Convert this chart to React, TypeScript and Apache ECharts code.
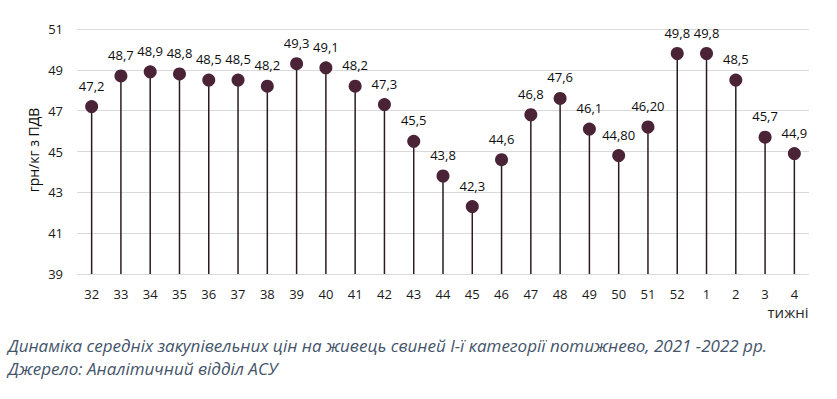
import React, { useEffect, useRef } from "react";
import * as echarts from "echarts";

const weeks = ["32","33","34","35","36","37","38","39","40","41","42","43","44","45","46","47","48","49","50","51","52","1","2","3","4"];
const prices = [47.2,48.7,48.9,48.8,48.5,48.5,48.2,49.3,49.1,48.2,47.3,45.5,43.8,42.3,44.6,46.8,47.6,46.1,44.8,46.2,49.8,49.8,48.5,45.7,44.9];
const priceLabels = ["47,2","48,7","48,9","48,8","48,5","48,5","48,2","49,3","49,1","48,2","47,3","45,5","43,8","42,3","44,6","46,8","47,6","46,1","44,80","46,20","49,8","49,8","48,5","45,7","44,9"];
const yTicks = [39, 41, 43, 45, 47, 49, 51];
const yAxisTitle = "грн/кг з ПДВ";
const xAxisTitle = "тижні";
const caption1 = "Динаміка середніх закупівельних цін на живець свиней І-ї категорії потижнево, 2021 -2022 рр.";
const caption2 = "Джерело: Аналітичний відділ АСУ";

export default function App() {
  const ref = useRef<HTMLDivElement>(null);
  useEffect(() => {
    if (!ref.current) return;
    const chart = echarts.init(ref.current, null, { renderer: "svg" });
    const font = "'Open Sans', sans-serif";
    chart.setOption({
      animation: false,
      textStyle: { fontFamily: font },
      grid: { left: 77, right: 28, top: 29, height: 245, containLabel: false },
      xAxis: {
        type: "category",
        data: weeks,
        axisLine: { show: false },
        axisTick: { show: false },
        axisLabel: { color: "#1a1a1a", fontSize: 13, fontFamily: font, margin: 13 },
      },
      yAxis: {
        type: "value",
        min: yTicks[0],
        max: yTicks[yTicks.length - 1],
        interval: 2,
        axisLine: { show: false },
        axisTick: { show: false },
        axisLabel: { color: "#1a1a1a", fontSize: 13, fontFamily: font, margin: 14 },
        splitLine: { lineStyle: { color: "#d9d9d9", width: 1 } },
      },
      series: [
        {
          type: "bar",
          data: prices,
          barWidth: 1.5,
          itemStyle: { color: "#2b1a22" },
          silent: true,
        },
        {
          type: "scatter",
          data: prices,
          symbolSize: 13,
          itemStyle: { color: "#4b2337", opacity: 1 },
          label: {
            show: true,
            position: "top",
            distance: 8,
            color: "#0d0d0d",
            fontSize: 13,
            fontFamily: font,
            formatter: (p: any) => priceLabels[p.dataIndex],
          },
          z: 3,
        },
      ],
      graphic: [
        {
          type: "text",
          x: 33,
          y: 150,
          rotation: Math.PI / 2,
          style: {
            text: yAxisTitle,
            fill: "#0d0d0d",
            font: `14px ${font}`,
            align: "center",
            verticalAlign: "middle",
          },
        },
        {
          type: "text",
          x: 788,
          y: 312,
          style: { text: xAxisTitle, fill: "#262626", font: `15px ${font}`, align: "center", verticalAlign: "middle" },
        },
        {
          type: "text",
          x: 8,
          y: 345,
          style: { text: caption1, fill: "#44546a", font: `italic 17px ${font}`, verticalAlign: "middle" },
        },
        {
          type: "text",
          x: 8,
          y: 368,
          style: { text: caption2, fill: "#44546a", font: `italic 17px ${font}`, verticalAlign: "middle" },
        },
      ],
    });
    return () => chart.dispose();
  }, []);
  return <div ref={ref} style={{ position: "fixed", left: 0, top: 0, width: 837, height: 399, background: "#fff" }} />;
}
